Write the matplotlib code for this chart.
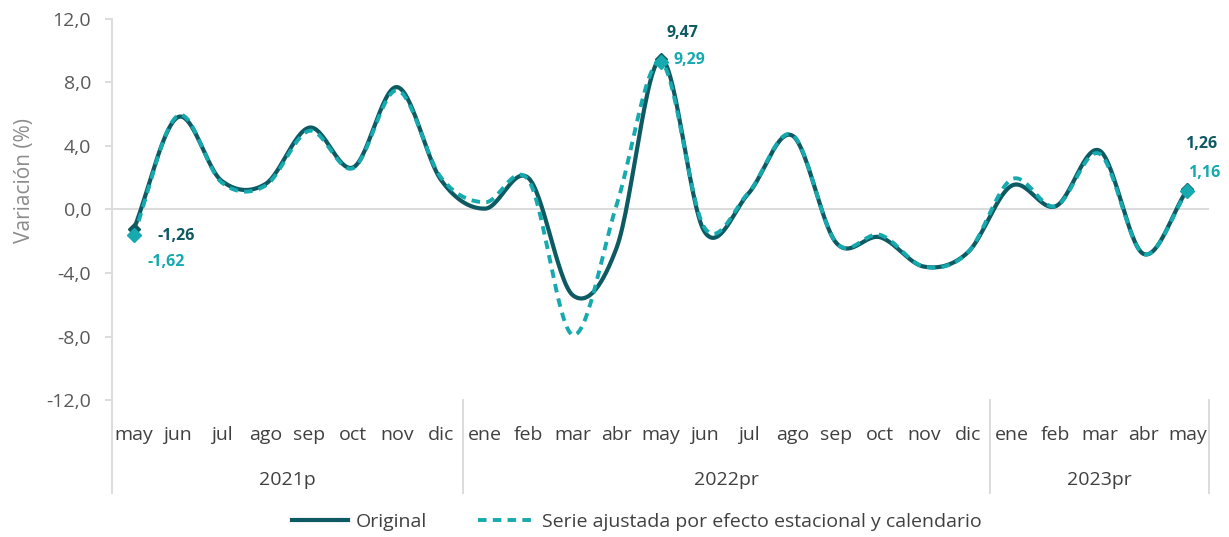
import numpy as np
import matplotlib.pyplot as plt
import matplotlib.transforms as mtransforms

plt.rcParams['font.family'] = ['Open Sans', 'DejaVu Sans']

# data
months = ['may', 'jun', 'jul', 'ago', 'sep', 'oct', 'nov', 'dic',
          'ene', 'feb', 'mar', 'abr', 'may', 'jun', 'jul', 'ago', 'sep', 'oct', 'nov', 'dic',
          'ene', 'feb', 'mar', 'abr', 'may']
years = ['2021p', '2022pr', '2023pr']
year_spans = [(0, 7), (8, 19), (20, 24)]
original = [-1.26, 5.8, 1.8, 1.6, 5.15, 2.65, 7.7, 1.85,
            0.05, 1.95, -5.4, -2.4, 9.47, -1.4, 1.0, 4.65, -2.1, -1.75, -3.6, -2.7,
            1.5, 0.2, 3.7, -2.8, 1.26]
ajustada = [-1.62, 5.9, 1.7, 1.5, 4.95, 2.6, 7.5, 2.0,
            0.45, 1.8, -7.9, 0.3, 9.29, -1.15, 1.05, 4.7, -2.1, -1.6, -3.6, -2.7,
            1.9, 0.2, 3.5, -2.8, 1.16]

c_orig = '#0D5A63'
c_adj = '#16AAAF'


def smooth(y, n=30):
    # Catmull-Rom style smoothing like Excel's smoothed line
    y = np.asarray(y, float)
    p = np.concatenate([[2 * y[0] - y[1]], y, [2 * y[-1] - y[-2]]])
    xs, ys = [], []
    for i in range(len(y) - 1):
        p0, p1, p2, p3 = p[i], p[i + 1], p[i + 2], p[i + 3]
        m1 = (p2 - p0) / 2
        m2 = (p3 - p1) / 2
        t = np.linspace(0, 1, n, endpoint=False)
        h00 = 2 * t**3 - 3 * t**2 + 1
        h10 = t**3 - 2 * t**2 + t
        h01 = -2 * t**3 + 3 * t**2
        h11 = t**3 - t**2
        xs.append(i + t)
        ys.append(h00 * p1 + h10 * m1 + h01 * p2 + h11 * m2)
    xs.append([len(y) - 1])
    ys.append([y[-1]])
    return np.concatenate(xs), np.concatenate(ys)


x = np.arange(len(months))
fig = plt.figure(figsize=(12.29, 5.37), dpi=100)
ax = fig.add_axes([0.091, 0.255, 0.893, 0.71])

xs, ys = smooth(original)
ax.plot(xs, ys, color=c_orig, lw=3, label='Original', zorder=3)
xs, ys = smooth(ajustada)
ax.plot(xs, ys, color=c_adj, lw=2.8, ls=(0, (2.2, 1.6)),
        label='Serie ajustada por efecto estacional y calendario', zorder=4)

for i in [0, 12, 24]:
    ax.plot(x[i], original[i], marker='D', ms=6, color=c_orig, zorder=5)
    ax.plot(x[i], ajustada[i], marker='D', ms=7, color=c_adj, zorder=6)

def fmt(v):
    return f'{v:.2f}'.replace('.', ',')

lab_kw = dict(textcoords='offset points', fontsize=11.5, fontweight='bold', va='center')
ax.annotate(fmt(original[0]), (x[0], original[0]), xytext=(17, -5), color=c_orig, ha='left', **lab_kw)
ax.annotate(fmt(ajustada[0]), (x[0], ajustada[0]), xytext=(10, -19), color=c_adj, ha='left', **lab_kw)
ax.annotate(fmt(original[12]), (x[12], original[12]), xytext=(16, 19), color=c_orig, ha='center', **lab_kw)
ax.annotate(fmt(ajustada[12]), (x[12], ajustada[12]), xytext=(21, 1), color=c_adj, ha='center', **lab_kw)
ax.annotate(fmt(original[24]), (x[24], original[24]), xytext=(10, 33), color=c_orig, ha='center', **lab_kw)
ax.annotate(fmt(ajustada[24]), (x[24], ajustada[24]), xytext=(12, 13), color=c_adj, ha='center', **lab_kw)

ax.axhline(0, color='#d9d9d9', lw=1.3, zorder=1)
ax.set_xlim(-0.5, len(months) - 0.5)
ax.set_ylim(-12, 12)
ax.set_yticks(np.arange(-12, 13, 4))
ax.set_yticklabels([f'{v:.1f}'.replace('.', ',') for v in np.arange(-12, 13, 4)],
                   color='#595959', fontsize=14)
ax.set_xticks([])
for s in ['top', 'right', 'bottom']:
    ax.spines[s].set_visible(False)
ax.spines['left'].set_color('#d9d9d9')
ax.spines['left'].set_linewidth(1.3)
ax.tick_params(axis='y', length=5, color='#d9d9d9', width=1.3, pad=10)
ax.set_ylabel('Variación (%)', color='#8c8c8c', fontsize=15)
ax.yaxis.set_label_coords(-0.070, 0.575)

trans = mtransforms.blended_transform_factory(ax.transData, ax.transAxes)
for i, m in enumerate(months):
    ax.text(i, -0.092, m, transform=trans, ha='center', va='center', color='#404040', fontsize=14)
for lab, (a, b) in zip(years, year_spans):
    ax.text((a + b) / 2, -0.21, lab, transform=trans, ha='center', va='center',
            color='#404040', fontsize=14)
for sx in [-0.5, 7.5, 19.5, 24.5]:
    ax.plot([sx, sx], [0, -0.245], transform=trans, color='#d9d9d9', lw=1.3, clip_on=False)

fig.legend(loc='center', bbox_to_anchor=(0.518, 0.028), ncol=2, frameon=False,
           fontsize=14, handlelength=2.9, handletextpad=0.4, columnspacing=2.6,
           labelcolor='#404040')

fig.savefig('out.png', dpi=100)
